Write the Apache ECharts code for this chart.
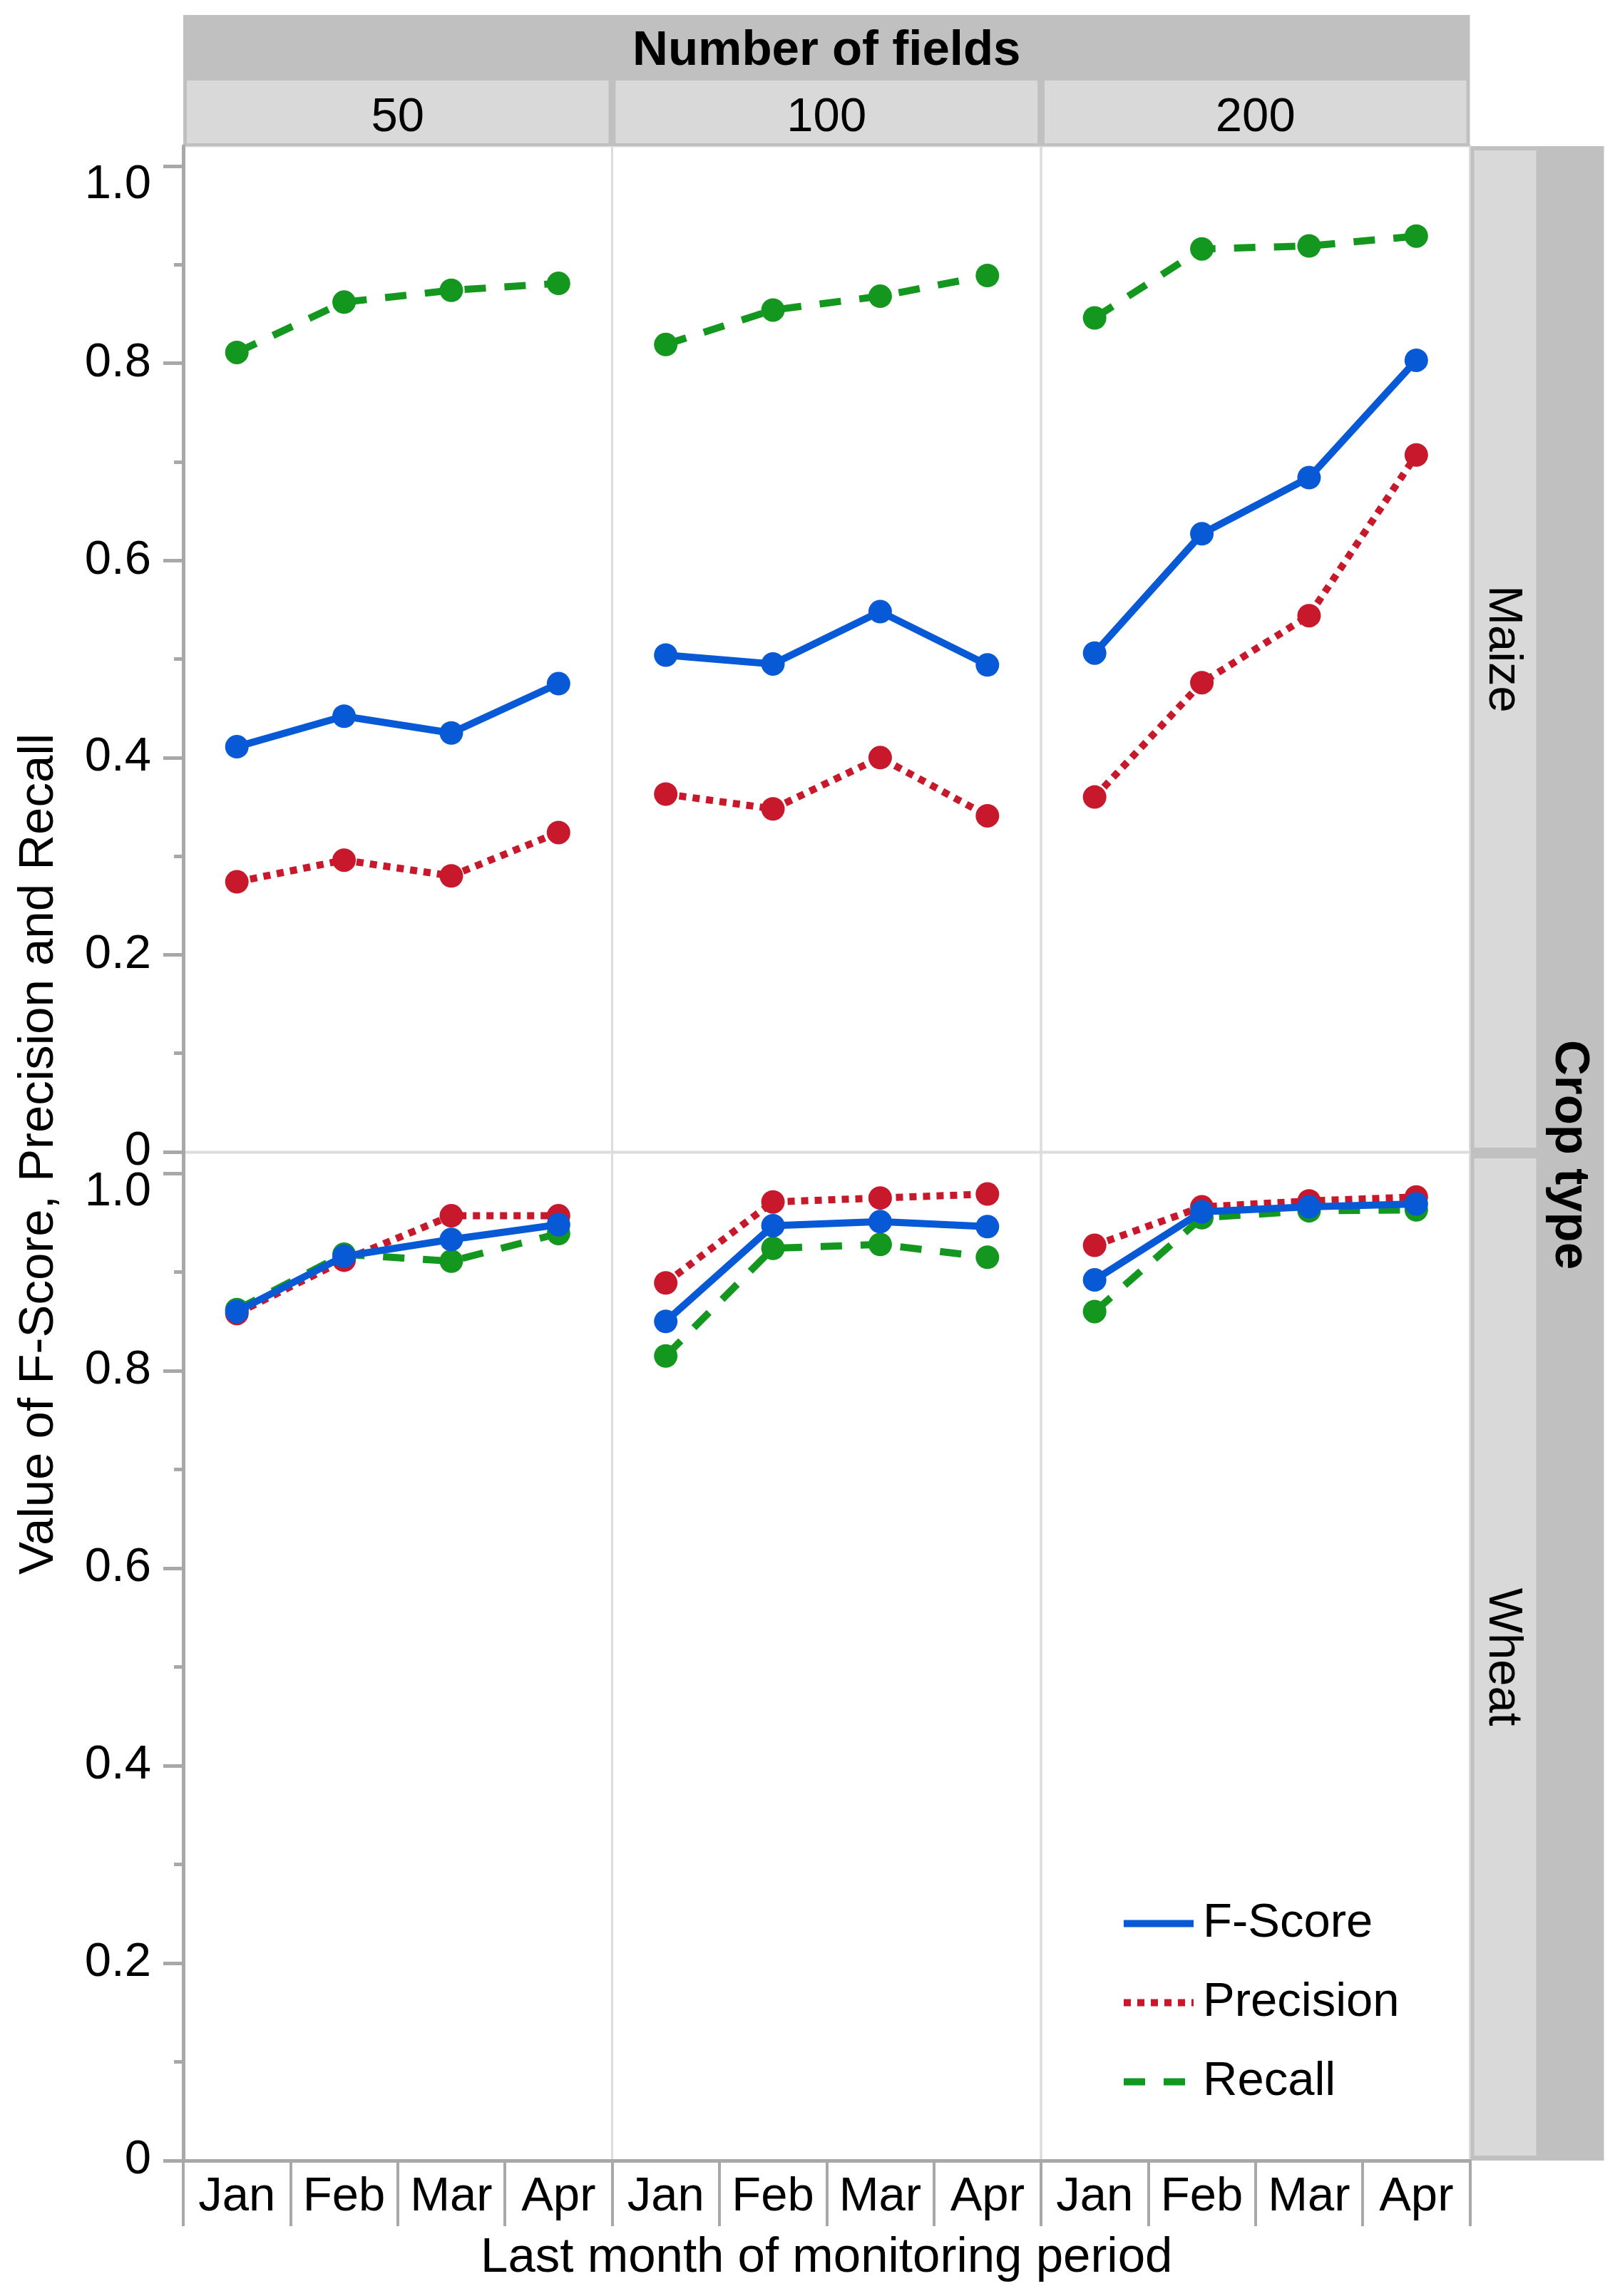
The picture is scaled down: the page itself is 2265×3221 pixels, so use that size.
<!DOCTYPE html>
<html>
<head>
<meta charset="utf-8">
<script src="https://cdn.jsdelivr.net/npm/echarts@6/dist/echarts.min.js"></script>
<style>
html,body{margin:0;padding:0;background:#fff;}
#chart{width:2265px;height:3221px;}
</style>
</head>
<body>
<div id="chart"></div>
<script>
// ---- data ----
const months = ['Jan', 'Feb', 'Mar', 'Apr'];
const fieldCounts = ['50', '100', '200'];
const cropTypes = ['Maize', 'Wheat'];
const metricNames = ['F-Score', 'Precision', 'Recall'];
const yTickLabels = [0, 0.2, 0.4, 0.6, 0.8, 1.0];
const yMinorTicks = [0.1, 0.3, 0.5, 0.7, 0.9];

const maizeF50  = [0.411, 0.442, 0.425, 0.475];
const maizeP50  = [0.274, 0.296, 0.280, 0.324];
const maizeR50  = [0.811, 0.862, 0.874, 0.881];
const maizeF100 = [0.504, 0.495, 0.548, 0.494];
const maizeP100 = [0.363, 0.348, 0.400, 0.341];
const maizeR100 = [0.819, 0.854, 0.868, 0.889];
const maizeF200 = [0.506, 0.627, 0.684, 0.803];
const maizeP200 = [0.360, 0.476, 0.544, 0.707];
const maizeR200 = [0.846, 0.916, 0.919, 0.929];
const wheatF50  = [0.860, 0.916, 0.933, 0.948];
const wheatP50  = [0.858, 0.912, 0.957, 0.957];
const wheatR50  = [0.862, 0.918, 0.911, 0.939];
const wheatF100 = [0.850, 0.947, 0.951, 0.946];
const wheatP100 = [0.889, 0.971, 0.975, 0.979];
const wheatR100 = [0.815, 0.924, 0.928, 0.915];
const wheatF200 = [0.892, 0.961, 0.966, 0.969];
const wheatP200 = [0.927, 0.966, 0.972, 0.976];
const wheatR200 = [0.860, 0.955, 0.962, 0.963];

const panelData = [
  [[maizeF50, maizeP50, maizeR50], [maizeF100, maizeP100, maizeR100], [maizeF200, maizeP200, maizeR200]],
  [[wheatF50, wheatP50, wheatR50], [wheatF100, wheatP100, wheatR100], [wheatF200, wheatP200, wheatR200]]
];

// ---- styling / layout ----
const FONT = 'Liberation Sans';
const FS = 67;
const FST = 69;
const colors = ['#0759D6', '#C8182B', '#14971E'];
const dashes = ['solid', [10, 9], [30, 26]];
const zs = [4, 3, 2];
const axisGrey = '#a8a8a8';
const plotLeft = 257, panelW = 601.5;
const rowTop = [205, 1617];
const rowH = [1411, 1414];
const rowMax = [1411 / 1383, 1414 / 1385];

const grids = [], xAxes = [], yAxes = [], series = [];
for (let r = 0; r < 2; r++) {
  for (let c = 0; c < 3; c++) {
    const idx = r * 3 + c;
    grids.push({
      left: plotLeft + c * panelW, top: rowTop[r], width: panelW, height: rowH[r],
      show: true, borderColor: '#dcdcdc', borderWidth: 3, backgroundColor: 'transparent'
    });
    const showX = r === 1;
    xAxes.push({
      type: 'category', gridIndex: idx, data: months, boundaryGap: true, position: 'bottom',
      axisLine: { show: showX, lineStyle: { color: axisGrey, width: 5 } },
      axisTick: { show: showX, length: 92, lineStyle: { color: axisGrey, width: 4 } },
      axisLabel: { show: showX, fontSize: FS, fontFamily: FONT, color: '#000', margin: 18 },
      splitLine: { show: false }
    });
    const showY = c === 0;
    yAxes.push({
      type: 'value', gridIndex: idx, min: 0, max: rowMax[r], position: 'left',
      axisLine: { show: showY, lineStyle: { color: axisGrey, width: 5 } },
      axisTick: { show: showY, length: 28, customValues: yTickLabels, lineStyle: { color: axisGrey, width: 5 } },
      axisLabel: {
        show: showY, customValues: yTickLabels, fontSize: FS, fontFamily: FONT, color: '#000', margin: 45,
        formatter: v => (Math.abs(v) < 1e-9 ? '0' : (Math.abs(v - 1) < 1e-9 ? '{t|1.0}' : v.toFixed(1))),
        rich: { t: { fontSize: FS, fontFamily: FONT, color: '#000', padding: [54, 0, 0, 0] } }
      },
      splitLine: { show: false }
    });
    for (let m = 0; m < 3; m++) {
      series.push({
        type: 'line', name: metricNames[m], xAxisIndex: idx, yAxisIndex: idx,
        data: panelData[r][c][m], symbol: 'circle', symbolSize: 33, z: zs[m],
        lineStyle: { color: colors[m], width: 10, type: dashes[m], cap: 'butt' },
        itemStyle: { color: colors[m] },
        emphasis: { disabled: true }, animation: false
      });
    }
  }
}
// minor y ticks on the left panels
for (let r = 0; r < 2; r++) {
  yAxes.push({
    type: 'value', gridIndex: r * 3, min: 0, max: rowMax[r], position: 'left', offset: 0,
    axisLine: { show: false },
    axisTick: { show: true, length: 13, customValues: yMinorTicks, lineStyle: { color: axisGrey, width: 5 } },
    axisLabel: { show: false }, splitLine: { show: false }
  });
}

// strips (facet headers)
const hdrDark = '#c0c0c0', hdrLight = '#d9d9d9';
const plotRight = plotLeft + 3 * panelW;
const graphics = [
  { type: 'rect', shape: { x: plotLeft, y: 21, width: 3 * panelW, height: 184 }, style: { fill: hdrDark }, z: 0 },
  { type: 'text', x: plotLeft + 1.5 * panelW, y: 72, style: { text: 'Number of fields', font: 'bold ' + FST + 'px ' + FONT, fill: '#000', align: 'center', verticalAlign: 'middle' } },
  { type: 'rect', shape: { x: plotRight + 1, y: 205, width: 187, height: 2826 }, style: { fill: hdrDark }, z: 0 },
  { type: 'text', x: 2201, y: 1620, rotation: -Math.PI / 2, style: { text: 'Crop type', font: 'bold ' + FST + 'px ' + FONT, fill: '#000', align: 'center', verticalAlign: 'middle' } },
  { type: 'text', x: 55, y: 1619, rotation: Math.PI / 2, style: { text: 'Value of F-Score, Precision and Recall', font: FST + 'px ' + FONT, fill: '#000', align: 'center', verticalAlign: 'middle' } },
  { type: 'text', x: plotLeft + 1.5 * panelW, y: 3168, style: { text: 'Last month of monitoring period', font: FST + 'px ' + FONT, fill: '#000', align: 'center', verticalAlign: 'middle' } }
];
fieldCounts.forEach((f, c) => {
  const x0 = plotLeft + c * panelW;
  graphics.push({ type: 'rect', shape: { x: x0 + 5, y: 113, width: panelW - 10, height: 88 }, style: { fill: hdrLight }, z: 1 });
  graphics.push({ type: 'text', x: x0 + panelW / 2, y: 166, style: { text: f, font: FS + 'px ' + FONT, fill: '#000', align: 'center', verticalAlign: 'middle' }, z: 2 });
});
cropTypes.forEach((ct, r) => {
  const y0 = r === 0 ? 211 : 1625;
  const h = 1399;
  graphics.push({ type: 'rect', shape: { x: plotRight + 6, y: y0, width: 87, height: h }, style: { fill: hdrLight }, z: 1 });
  graphics.push({ type: 'text', x: plotRight + 46, y: y0 + h / 2, rotation: -Math.PI / 2, style: { text: ct, font: FS + 'px ' + FONT, fill: '#000', align: 'center', verticalAlign: 'middle' }, z: 2 });
});

const chart = echarts.init(document.getElementById('chart'), null, { renderer: 'canvas' });
chart.setOption({
  animation: false,
  backgroundColor: '#fff',
  grid: grids,
  xAxis: xAxes,
  yAxis: yAxes,
  series: series,
  legend: {
    data: metricNames, orient: 'vertical', left: 1566, top: 2660,
    itemWidth: 98, itemHeight: 30, itemGap: 44,
    textStyle: { fontSize: FS, fontFamily: FONT, color: '#000', padding: [0, 0, 0, 8] },
    lineStyle: { width: 10 },
    itemStyle: { opacity: 0 },
    selectedMode: false
  },
  graphic: graphics
});
</script>
</body>
</html>
